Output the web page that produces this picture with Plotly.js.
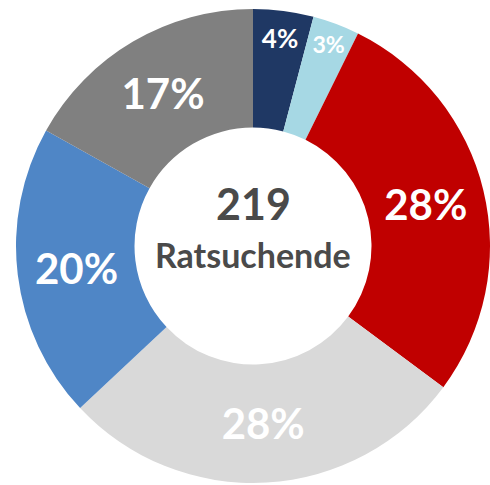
<!DOCTYPE html>
<html>
<head>
<meta charset="utf-8">
<script src="https://cdn.plot.ly/plotly-3.0.1.min.js"></script>
<style>html,body{margin:0;padding:0;background:#fff;}#chart{width:490px;height:485px;}</style>
</head>
<body>
<div id="chart"></div>
<script>
const categories = ["A", "B", "C", "D", "E", "F"];
const counts = [9, 7, 61, 61, 44, 37];
const sliceColors = ["#1F3864", "#A6D8E4", "#C00000", "#D9D9D9", "#4F86C6", "#808080"];
const labelSizes = [26, 26, 42, 42, 42, 42];
const total = 219;
const centerLabel = "Ratsuchende";

const FONT = "Lato, 'Open Sans', sans-serif";

Plotly.newPlot("chart", [{
  type: "pie",
  labels: categories,
  values: counts,
  hole: 0.5,
  sort: false,
  direction: "clockwise",
  rotation: 0,
  marker: {colors: sliceColors, line: {width: 0}},
  textinfo: "percent",
  texttemplate: "%{percent:.0%}",
  textposition: "inside",
  insidetextorientation: "horizontal",
  textfont: {family: FONT, color: "#ffffff", size: labelSizes, weight: 700},
  hoverinfo: "none",
  showlegend: false
}], {
  width: 490, height: 485,
  margin: {l: 16, r: 0, t: 8, b: 1},
  paper_bgcolor: "#ffffff",
  showlegend: false,
  annotations: [
    {text: String(total), x: 0.5, y: 0.59, xref: "paper", yref: "paper",
     showarrow: false, font: {family: FONT, size: 43, color: "#4A4A4A", weight: 700}},
    {text: centerLabel, x: 0.5, y: 0.482, xref: "paper", yref: "paper",
     showarrow: false, font: {family: FONT, size: 34, color: "#4A4A4A", weight: 700}}
  ]
}, {staticPlot: true, displayModeBar: false});
</script>
</body>
</html>
